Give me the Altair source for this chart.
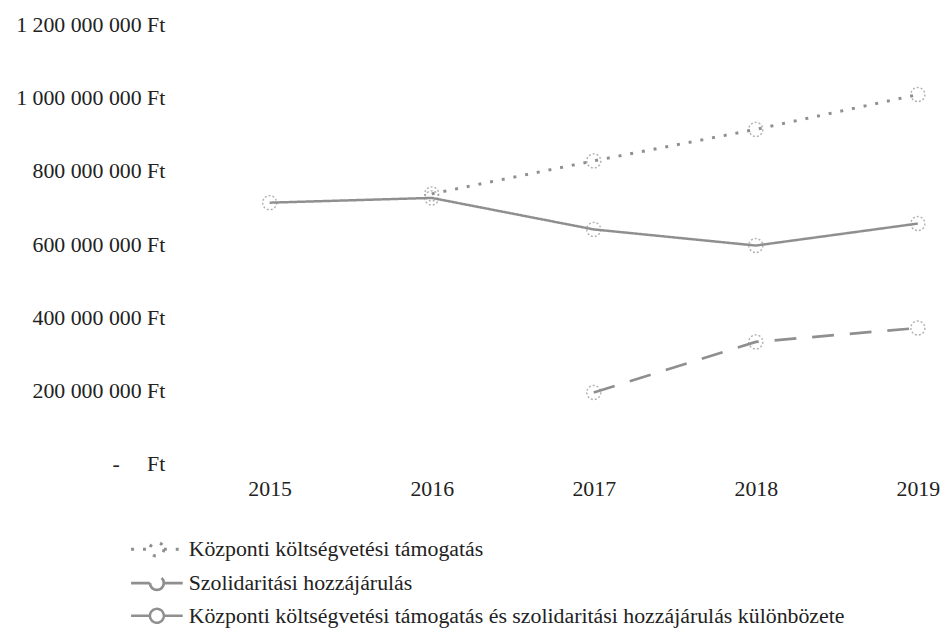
import altair as alt
import pandas as pd

years = [2015, 2016, 2017, 2018, 2019]
S1 = "Központi költségvetési támogatás"
S2 = "Szolidaritási hozzájárulás"
S3 = "Központi költségvetési támogatás és szolidaritási hozzájárulás különbözete"
series_names = [S1, S2, S3]
tamogatas = [None, 737e6, 827e6, 913e6, 1008e6]
szolidaritas = [None, None, 195e6, 333e6, 371e6]
kulonbozet = [713e6, 726e6, 640e6, 596e6, 656e6]
y_ticks = [0, 200e6, 400e6, 600e6, 800e6, 1000e6, 1200e6]

rows = []
for name, vals in zip(series_names, [tamogatas, szolidaritas, kulonbozet]):
    for yr, v in zip(years, vals):
        if v is not None:
            rows.append({"year": yr, "value": v, "series": name})
df = pd.DataFrame(rows)

GRAY = "#8f8f8f"
TXT = "#222222"
FONT = "Liberation Serif"

x = alt.X("year:Q", scale=alt.Scale(domain=[2014.5, 2019.1], nice=False, zero=False),
          axis=alt.Axis(values=years, format="d", title=None, domain=False, ticks=False,
                        grid=False, labelFont=FONT, labelFontSize=22, labelColor=TXT,
                        labelPadding=15))
y = alt.Y("value:Q", scale=alt.Scale(domain=[0, 1.2e9], nice=False),
          axis=alt.Axis(values=y_ticks, title=None, domain=False, ticks=False, grid=False,
                        labelFont=FONT, labelFontSize=22, labelColor=TXT, labelPadding=24,
                        labelExpr="datum.value == 0 ? '-\u00a0\u00a0\u00a0\u00a0\u00a0Ft' : replace(format(datum.value, ','), regexp(',', 'g'), ' ') + ' Ft'"))

# legend symbol: line, circle, line
SYMBOL = ("M-26,0H-7M7,0H26"
          "M7,0A7,7,0,1,1,-7,0A7,7,0,1,1,7,0")

lines = alt.Chart(df).mark_line().encode(
    x=x, y=y,
    color=alt.Color("series:N", scale=alt.Scale(domain=series_names, range=[GRAY, GRAY, GRAY]),
                    legend=alt.Legend(orient="none", legendX=-43, legendY=518, title=None,
                                      symbolType=SYMBOL, symbolSize=4,
                                      symbolFillColor="white",
                                      labelFont=FONT, labelFontSize=22, labelColor=TXT,
                                      rowPadding=8, labelLimit=900, labelOffset=21)),
    strokeDash=alt.StrokeDash("series:N", scale=alt.Scale(domain=series_names,
                              range=[[3, 9], [22, 16], [1, 0]])),
    strokeWidth=alt.StrokeWidth("series:N", scale=alt.Scale(domain=series_names,
                                range=[3, 2.5, 1.4])),
)

points = alt.Chart(df).mark_point(filled=False, size=200, stroke=GRAY, strokeWidth=1.4,
                                  strokeDash=[2, 2]).encode(x=x, y=y, detail="series:N")

chart = alt.layer(lines, points).properties(
    width=751, height=443,
    autosize=alt.AutoSizeParams(type="none"),
    padding={"left": 182, "top": 14, "right": 8, "bottom": 170},
).configure_view(stroke=None)

chart.save("out.html", embed_options={"renderer": "svg", "actions": False})
